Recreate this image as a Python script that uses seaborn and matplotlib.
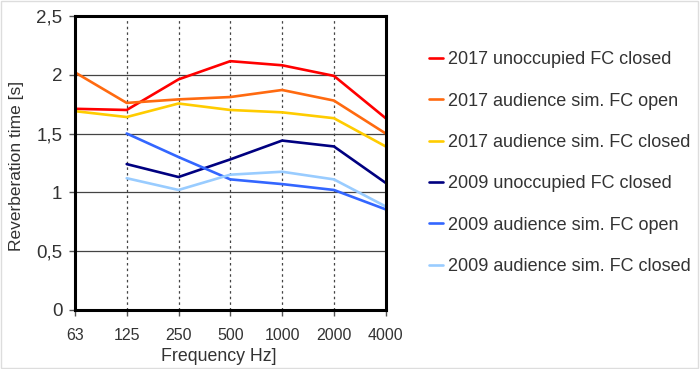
import numpy as np
import pandas as pd
import seaborn as sns
import matplotlib.pyplot as plt

# frequency bands (Hz) and reverberation times [s]
freqs = ['63', '125', '250', '500', '1000', '2000', '4000']
series = ['2017 unoccupied FC closed', '2017 audience sim. FC open',
          '2017 audience sim. FC closed', '2009 unoccupied FC closed',
          '2009 audience sim. FC open', '2009 audience sim. FC closed']
rt_2017_unocc = [1.71, 1.70, 1.96, 2.115, 2.08, 1.99, 1.63]
rt_2017_open = [2.02, 1.76, 1.79, 1.81, 1.87, 1.78, 1.50]
rt_2017_closed = [1.69, 1.64, 1.755, 1.70, 1.68, 1.63, 1.39]
rt_2009_unocc = [np.nan, 1.24, 1.13, 1.28, 1.44, 1.39, 1.08]
rt_2009_open = [np.nan, 1.50, 1.30, 1.11, 1.07, 1.02, 0.855]
rt_2009_closed = [np.nan, 1.12, 1.02, 1.15, 1.175, 1.11, 0.88]
colors = ['#ff0000', '#ff6a10', '#ffcc00', '#000080', '#3366ff', '#99ccff']

# long format table
rows = []
for name, vals in zip(series, [rt_2017_unocc, rt_2017_open, rt_2017_closed,
                               rt_2009_unocc, rt_2009_open, rt_2009_closed]):
    for i, v in enumerate(vals):
        rows.append({'pos': i, 'rt': v, 'series': name})
df = pd.DataFrame(rows).dropna()

sns.set_style('white')
plt.rcParams['font.family'] = ['Liberation Sans', 'DejaVu Sans']

fig = plt.figure(figsize=(7, 3.69), dpi=100)
ax = fig.add_axes([0.107, 0.160, 0.444, 0.797])

sns.lineplot(data=df, x='pos', y='rt', hue='series', hue_order=series,
             palette=colors, linewidth=1.9, ax=ax)

ax.set_xlim(0, 6)
ax.set_ylim(0, 2.5)
ax.set_xticks(range(len(freqs)))
ax.set_xticklabels(freqs)
yt = [0, 0.5, 1, 1.5, 2, 2.5]
ax.set_yticks(yt)
ax.set_yticklabels(['0', '0,5', '1', '1,5', '2', '2,5'])
for y in yt[1:-1]:
    ax.axhline(y, color='#444444', lw=0.9, zorder=0)
for x in range(1, 6):
    ax.axvline(x, color='#444444', lw=0.9, ls=(0, (2, 2.5)), zorder=0)
for s in ax.spines.values():
    s.set_linewidth(2.2)
    s.set_color('black')
ax.tick_params(axis='both', direction='out', length=4, width=1, colors='#555555',
               labelcolor='#333333', left=True, bottom=True)
ax.tick_params(axis='x', labelsize=11.5, pad=9)
ax.tick_params(axis='y', labelsize=13.5, pad=5)
ax.set_xlabel('Frequency Hz]', fontsize=12.8, color='#333333')
ax.xaxis.set_label_coords(0.463, -0.128)
ax.set_ylabel('Reverberation time [s]', fontsize=12.5, color='#333333')
ax.yaxis.set_label_coords(-0.165, 0.49)

ax.legend(loc='upper left', bbox_to_anchor=(0.589, 0.905),
          bbox_transform=fig.transFigure, frameon=False, fontsize=13,
          handlelength=0.8, handletextpad=0.25, labelspacing=1.35,
          labelcolor='#333333')

fig.patches.append(plt.Rectangle((0.001, 0.004), 0.996, 0.994, transform=fig.transFigure,
                                 fill=False, edgecolor='#dddddd', lw=1))
fig.savefig('out.png', dpi=100)
